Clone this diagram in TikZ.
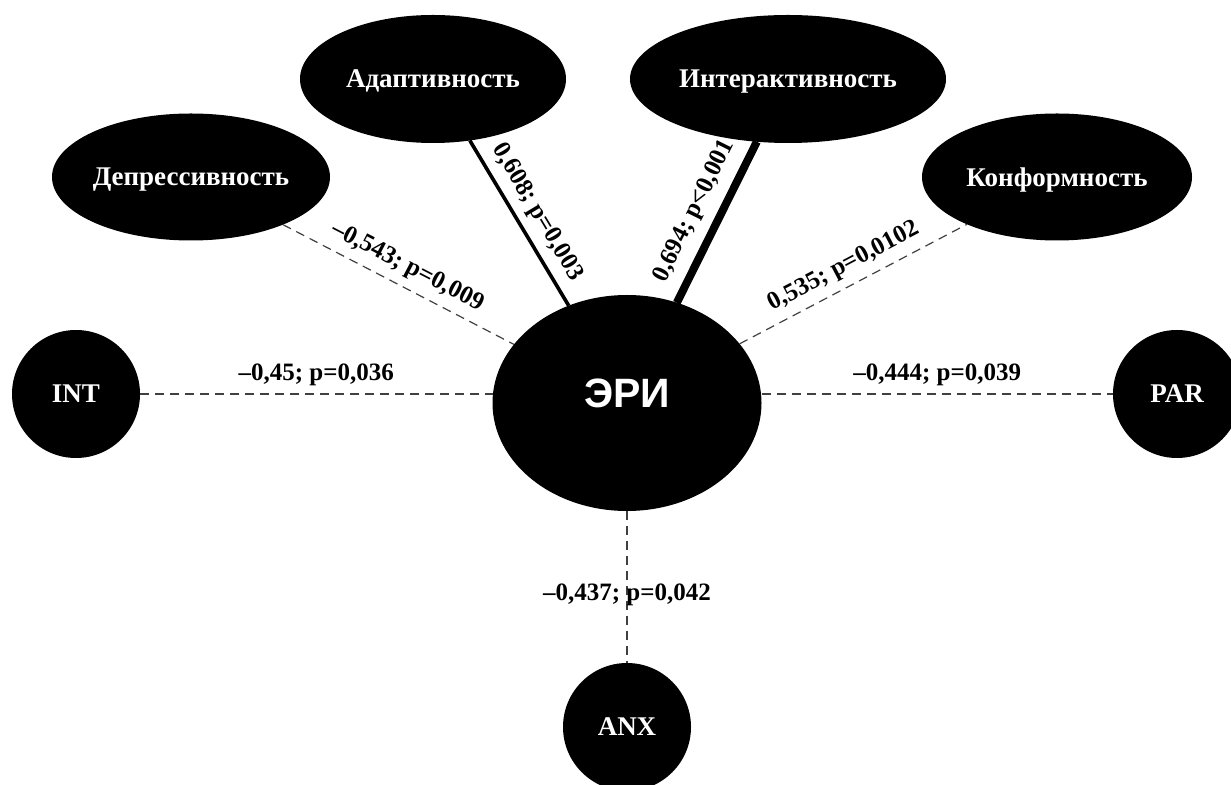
\documentclass[tikz,border=0pt]{standalone}
\usepackage{fontspec}
\setmainfont{Liberation Serif}
\newfontfamily\erifont{Liberation Sans}
\usetikzlibrary{shapes.geometric}
\tikzset{
  blob/.style={fill=black, draw=none, inner sep=0pt, outer sep=0pt, text=white,
    text depth=0pt, font=\bfseries\fontsize{13.5}{16}\selectfont},
  oval/.style={blob, ellipse},
  disc/.style={blob, circle, minimum size=64pt},
  weak/.style={draw=black!75, line width=0.6pt, dash pattern=on 4.5pt off 3pt},
  strong/.style={draw=black, line width=1.8pt},
  strongest/.style={draw=black, line width=4pt},
  corr/.style={text=black, inner sep=1pt, font=\bfseries\fontsize{12.5}{14}\selectfont},
}
\begin{document}
\begin{tikzpicture}[x=0.5pt, y=-0.5pt]
\useasboundingbox (0,0) rectangle (1231,785);
\clip (0,0) rectangle (1231,785);

% central factor
\node[oval, minimum width=134.5pt, minimum height=108pt] (eri) at (627,403) {};
\node[text=white, inner sep=0pt, font=\erifont\bfseries\fontsize{20.5}{24}\selectfont] (eritext) at (627,393) {ЭРИ};

% personality scales
\node[oval, minimum width=139pt, minimum height=63.5pt] (dep) at (191,177) {Депрессивность};
\node[oval, minimum width=133pt, minimum height=64pt]   (ada) at (433,79)  {Адаптивность};
\node[oval, minimum width=158pt, minimum height=64pt]   (int) at (788,79)  {Интерактивность};
\node[oval, minimum width=135pt, minimum height=63.5pt] (kon) at (1057,177) {Конформность};

% clinical scales
\node[disc] (INT) at (76,394)   {INT};
\node[disc] (PAR) at (1177,394) {PAR};
\node[disc] (ANX) at (627,727)  {ANX};

% correlations
\draw[weak] (dep) -- node[corr, midway, above=3pt, sloped] {–0,543; p=0,009} (eri);
\draw[strong] (ada) -- node[corr, midway, above=3pt, sloped] {0,608; p=0,003} (eri);
\draw[strongest] (eri) -- node[corr, midway, above=4pt, sloped] {0,694; p<0,001} (int);
\draw[weak] (eri) -- node[corr, midway, above=3pt, sloped] {0,535; p=0,0102} (kon);
\draw[weak] (INT.east) -- node[corr, midway, above=3pt] {–0,45; p=0,036} (INT.east -| eri.west);
\draw[weak] (eri.east |- PAR.west) -- node[corr, midway, above=3pt] {–0,444; p=0,039} (PAR.west);
\draw[weak] (eri.south) -- node[corr, pos=0.55] {–0,437; p=0,042} (ANX.north);
\end{tikzpicture}
\end{document}
